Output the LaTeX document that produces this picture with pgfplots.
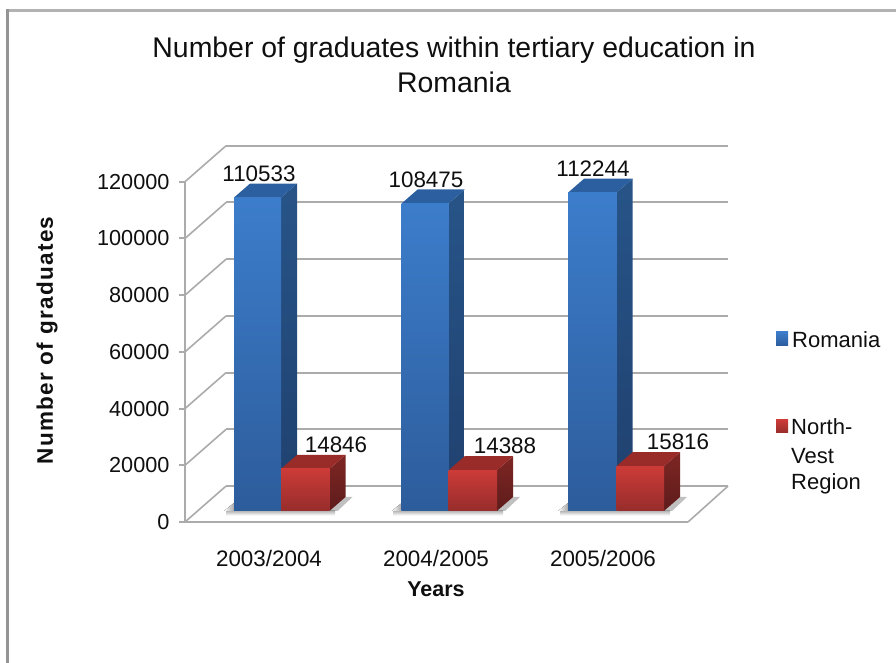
\documentclass[border=0pt]{standalone}
\usepackage{fontspec}
\setmainfont{Liberation Sans}
\usepackage{pgfplots}
\pgfplotsset{compat=1.18}
\definecolor{gridc}{HTML}{ABABAB}
\definecolor{txt}{HTML}{0F0F0F}
\definecolor{bft}{HTML}{3C7DCB}\definecolor{bfb}{HTML}{2D5C9B}
\definecolor{bst}{HTML}{275488}\definecolor{bsb}{HTML}{1F406E}
\definecolor{btop}{HTML}{2C5F9F}
\definecolor{rft}{HTML}{CC3B38}\definecolor{rfb}{HTML}{962D2B}
\definecolor{rst}{HTML}{7E2624}\definecolor{rsb}{HTML}{5E1C1B}
\definecolor{rtop}{HTML}{992B29}
\newcommand{\fs}[1]{\fontsize{#1}{#1}\selectfont}
\pgfplotsset{
  panel/.style={scale only axis,width=503pt,height=340.3pt,xmin=185,xmax=688,
    ymin=0,ymax=120000,clip=false},
  front/.style={ybar,bar width=48pt,bar shift=0pt,draw=none},
}
\begin{document}
\begin{tikzpicture}[x=1pt,y=1pt]
\path[use as bounding box] (0,0) rectangle (896,663);
% chart frame
\draw[line width=2.5pt,color=black!30] (6,652.5) -- (896,652.5);
\draw[line width=3pt,color=black!42] (7.5,653.5) -- (7.5,0);
% back wall with gridlines
\begin{axis}[panel,at={(226pt,177pt)},width=502pt,
  xmin=226,xmax=728,
  axis line style={draw=none},xtick=\empty,
  ytick={0,20000,...,120000},yticklabels={},ytick style={draw=none},ymajorgrids,
  scaled y ticks=false,
  grid style={gridc,line width=2pt}]
\addplot[draw=none] coordinates {(226,0) (728,120000)};
\end{axis}
% front axis
\begin{axis}[panel,at={(185pt,141pt)},
  axis lines=left,axis line style={-,gridc,line width=2pt},
  xtick={269,436,603},xticklabels={2003/2004,2004/2005,2005/2006},
  ytick={0,20000,...,120000},
  scaled y ticks=false,
  /pgf/number format/fixed,/pgf/number format/1000 sep={},
  /pgf/number format/assume math mode=true,
  tick label style={font=\fs{22.4},text=txt},
  xtick style={draw=none},
  ytick style={gridc,line width=2pt},
  tick align=outside,major tick length=6pt,
  xticklabel style={anchor=center,yshift=-30pt},
  yticklabel style={anchor=east,xshift=-6pt,font=\fs{21.7}},
  title={Number of graduates within tertiary education in\\Romania},
  title style={at={(axis cs:454,120000)},anchor=center,align=center,yshift=111pt,
    font=\fs{28.4},text=txt,execute at begin node={\baselineskip=35pt}},
  xlabel={Years},
  every axis x label/.style={at={(axis cs:436,0)},anchor=center,yshift=-67pt,font=\bfseries\fs{21.5},text=txt},
  ylabel={Number of graduates},
  every axis y label/.style={at={(axis cs:47,64000)},anchor=center,rotate=90,font=\bfseries\fs{22.5}\addfontfeature{LetterSpace=6},text=txt},
]
\addplot[draw=none] coordinates {(185,0) (688,120000)};
% side wall and floor diagonals
\foreach \v/\w in {0/12658,20000/32658,40000/52658,60000/72658,80000/92658,100000/112658,120000/132658}{
  \edef\tmp{\noexpand\draw[gridc,line width=1.6pt] (axis cs:185,\v) -- (axis cs:226,\w);}\tmp
}
\draw[gridc,line width=1.6pt] (axis cs:688,0) -- (axis cs:728,12658);
\end{axis}
% floor shadows
\foreach \a/\b in {226/335,393/503,560/670}{
  \fill[top color=black!28,bottom color=white] (\a,152) rectangle (\b,147.5);
}
\foreach \a in {329.5,497,664}{
  \fill[black!45,opacity=.55] (\a,152) -- (\a+16,166) -- (\a+23,166) -- (\a+8,152) -- cycle;
}
\foreach \a in {234,401.7,568}{
  \fill[left color=white,right color=black!35] (\a-10,152) -- (\a,160) -- (\a,152) -- cycle;
}
% bars
\begin{axis}[panel,at={(185pt,152pt)},hide axis]
% Romania
\addplot[draw=none,top color=bst,bottom color=bsb] coordinates {(281,0) (281,110533) (297,115455) (297,4922)} --cycle;
\addplot[draw=none,top color=bst,bottom color=bsb] coordinates {(448.7,0) (448.7,108475) (464.7,113397) (464.7,4922)} --cycle;
\addplot[draw=none,top color=bst,bottom color=bsb] coordinates {(616.5,0) (616.5,112244) (632.5,117166) (632.5,4922)} --cycle;
\addplot[draw=none,fill=btop] coordinates {(234,110533) (281,110533) (297,115455) (250,115455)} --cycle;
\addplot[draw=none,fill=btop] coordinates {(401.7,108475) (448.7,108475) (464.7,113397) (417.7,113397)} --cycle;
\addplot[draw=none,fill=btop] coordinates {(568,112244) (616.5,112244) (632.5,117166) (584,117166)} --cycle;
\addplot[front,top color=bft,bottom color=bfb,bar width=47pt] coordinates {(257.5,110533)};
\addplot[front,top color=bft,bottom color=bfb,bar width=47pt] coordinates {(425.2,108475)};
\addplot[front,top color=bft,bottom color=bfb,bar width=48.5pt] coordinates {(592.25,112244)};
% North-Vest Region
\addplot[draw=none,top color=rst,bottom color=rsb] coordinates {(329.5,0) (329.5,14846) (345.5,19768) (345.5,4922)} --cycle;
\addplot[draw=none,top color=rst,bottom color=rsb] coordinates {(497,0) (497,14388) (513,19310) (513,4922)} --cycle;
\addplot[draw=none,top color=rst,bottom color=rsb] coordinates {(664,0) (664,15816) (680,20738) (680,4922)} --cycle;
\addplot[draw=none,fill=rtop] coordinates {(281,14846) (329.5,14846) (345.5,19768) (297,19768)} --cycle;
\addplot[draw=none,fill=rtop] coordinates {(448.7,14388) (497,14388) (513,19310) (464.7,19310)} --cycle;
\addplot[draw=none,fill=rtop] coordinates {(616.5,15816) (664,15816) (680,20738) (632.5,20738)} --cycle;
\addplot[front,top color=rft,bottom color=rfb,bar width=48.5pt] coordinates {(305.25,14846)};
\addplot[front,top color=rft,bottom color=rfb,bar width=48.3pt] coordinates {(472.85,14388)};
\addplot[front,top color=rft,bottom color=rfb,bar width=47.5pt] coordinates {(640.25,15816)};
% data labels
\tikzset{dl/.style={font=\fs{22.4},text=txt,inner sep=0pt,anchor=center,yshift=24pt}}
\node[dl] at (axis cs:259,110533) {110533};
\node[dl] at (axis cs:426,108475) {108475};
\node[dl] at (axis cs:593,112244) {112244};
\node[dl] at (axis cs:336,14846) {14846};
\node[dl] at (axis cs:505,14388) {14388};
\node[dl] at (axis cs:678,15816) {15816};
\end{axis}
% legend
\fill[top color=bft,bottom color=bfb] (776,331) rectangle (788,317);
\fill[top color=rft,bottom color=rfb] (776,243) rectangle (788,230);
\node[anchor=west,inner sep=0pt,font=\fs{22},text=txt] at (792,323) {Romania};
\node[anchor=west,inner sep=0pt,font=\fs{22},text=txt] at (791,236) {North-};
\node[anchor=west,inner sep=0pt,font=\fs{22},text=txt] at (791,207) {Vest};
\node[anchor=west,inner sep=0pt,font=\fs{22},text=txt] at (791,179) {Region};
\end{tikzpicture}
\end{document}
